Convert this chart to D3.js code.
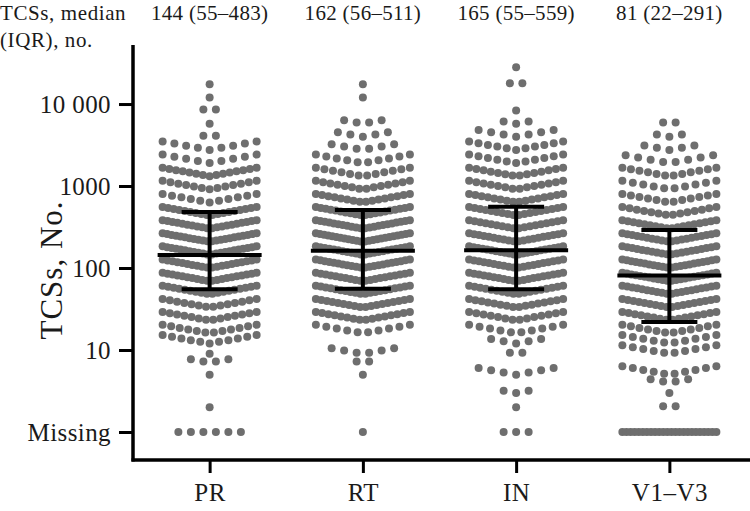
<!DOCTYPE html>
<html>
<head>
<meta charset="utf-8">
<script src="https://cdn.jsdelivr.net/npm/d3@7"></script>
<style>
  html, body { margin: 0; padding: 0; background: #ffffff; }
  svg text { font-family: "Liberation Serif", "DejaVu Serif", serif; fill: #1a1a1a; }
</style>
</head>
<body>
<svg id="chart" width="750" height="511"></svg>
<script>
// ---- data ----
const groups = ["PR", "RT", "IN", "V1–V3"];
const summaryLabels = ["144 (55–483)", "162 (56–511)", "165 (55–559)", "81 (22–291)"];
const medians = [144, 162, 165, 81];
const q1 = [55, 56, 55, 22];
const q3 = [483, 511, 559, 291];
// row values (TCS count) of the dot rows; 1 = "Missing"
const rowValues = [1, 2, 3, 4, 5, 7, 9, 12, 16, 23, 33, 48, 69, 100, 145, 209, 302, 437, 631, 912, 1318, 1905, 2754, 3981, 5754, 8318, 12023, 17378, 28000];
// number of dots in each row, per group
const countsPR = [6, 1, 0, 0, 1, 4, 1, 11, 12, 14, 14, 18, 20, 20, 22, 22, 20, 18, 11, 13, 15, 9, 9, 2, 1, 2, 1, 1, 0];
const countsRT = [1, 0, 0, 0, 1, 2, 6, 0, 10, 16, 18, 20, 20, 22, 22, 24, 22, 20, 16, 14, 12, 10, 6, 5, 4, 0, 1, 1, 0];
const countsIN = [3, 1, 3, 0, 7, 0, 2, 5, 10, 14, 16, 18, 20, 20, 22, 20, 18, 18, 16, 14, 14, 11, 11, 7, 3, 1, 0, 2, 1];
const countsV = [24, 2, 1, 4, 10, 0, 10, 10, 12, 16, 18, 20, 22, 22, 20, 20, 18, 14, 12, 10, 12, 8, 5, 3, 2, 0, 0, 0, 0];
const yTickValues = [1, 10, 100, 1000, 10000];
const yTickLabels = ["Missing", "10", "100", "1000", "10 000"];

const allCounts = [countsPR, countsRT, countsIN, countsV];

(function () {
// ---- layout ----
const svg = d3.select("#chart");
const mLeft = 133, mRight = 746, mTop = 45, mBottom = 460;

const x = d3.scalePoint().domain(groups).range([mLeft, mRight]).padding(0.5);
const y = d3.scaleLog().domain([Math.pow(10, -0.3415), Math.pow(10, 4.72)]).range([mBottom, mTop]);

// dots
const dotColor = "#6e6e6e";
const r = 4, maxHalf = 47, baseGap = 12.5, slope = 0.18;
const dots = [];
groups.forEach((g, gi) => {
  const cx = x(g);
  allCounts[gi].forEach((n, ri) => {
    if (n <= 0) return;
    const v = rowValues[ri];
    const gap = n > 1 ? Math.min(baseGap, 2 * maxHalf / (n - 1)) : 0;
    for (let i = 0; i < n; i++) {
      const dx = (i - (n - 1) / 2) * gap;
      const dy = v === 1 ? 0 : -slope * Math.abs(dx);
      dots.push({ x: cx + dx, y: y(v) + dy });
    }
  });
});
svg.append("g").selectAll("circle").data(dots).join("circle")
  .attr("cx", d => d.x).attr("cy", d => d.y).attr("r", r)
  .attr("fill", dotColor);

// median + IQR bars
const bars = svg.append("g").attr("stroke", "#000").attr("stroke-width", 4);
groups.forEach((g, i) => {
  const cx = x(g);
  bars.append("line").attr("x1", cx).attr("x2", cx).attr("y1", y(q1[i])).attr("y2", y(q3[i]));
  bars.append("line").attr("x1", cx - 52).attr("x2", cx + 52).attr("y1", y(medians[i])).attr("y2", y(medians[i]));
  bars.append("line").attr("x1", cx - 28).attr("x2", cx + 28).attr("y1", y(q1[i])).attr("y2", y(q1[i]));
  bars.append("line").attr("x1", cx - 28).attr("x2", cx + 28).attr("y1", y(q3[i])).attr("y2", y(q3[i]));
});

// axes
const yAxis = d3.axisLeft(y).tickValues(yTickValues)
  .tickFormat((d, i) => yTickLabels[i]).tickSize(14).tickSizeOuter(0).tickPadding(8);
const gy = svg.append("g").attr("transform", `translate(${mLeft},0)`).call(yAxis);
gy.select(".domain").attr("stroke-width", 3.5).attr("d", `M0,${mBottom + 1.5}V${mTop}`);
gy.selectAll(".tick line").attr("stroke-width", 3);
gy.selectAll(".tick text").style("font-size", "25px").style("letter-spacing", "0.4px").attr("dy", "0.34em");

const xAxis = d3.axisBottom(x).tickSize(13).tickSizeOuter(0).tickPadding(10);
const gx = svg.append("g").attr("transform", `translate(0,${mBottom})`).call(xAxis);
gx.select(".domain").attr("stroke-width", 3.5).attr("d", `M${mLeft - 1.5},0H750`);
gx.selectAll(".tick line").attr("stroke-width", 3);
gx.selectAll(".tick text").style("font-size", "25px").style("letter-spacing", "0.5px");

// axis title
svg.append("text").attr("transform", `translate(62,270) rotate(-90)`)
  .attr("text-anchor", "middle").style("font-size", "31px").style("letter-spacing", "1px").text("TCSs, No.");

// top summary
svg.append("text").attr("x", 0).attr("y", 20).style("font-size", "21px").style("letter-spacing", "0.6px").text("TCSs, median");
svg.append("text").attr("x", 0).attr("y", 47).style("font-size", "21px").style("letter-spacing", "0.6px").text("(IQR), no.");
groups.forEach((g, i) => {
  svg.append("text").attr("x", x(g)).attr("y", 20).attr("text-anchor", "middle")
    .style("font-size", "21px").style("letter-spacing", "0.3px").text(summaryLabels[i]);
});
})();
</script>
</body>
</html>
